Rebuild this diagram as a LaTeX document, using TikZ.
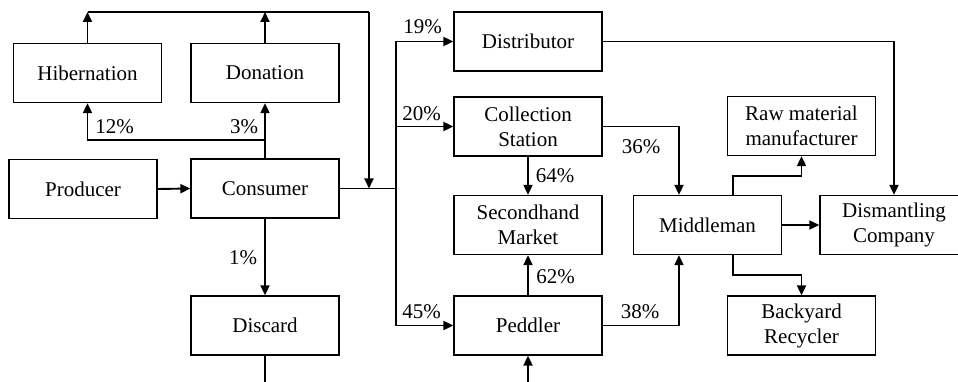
\documentclass[tikz,border=0pt]{standalone}
\usepackage{fontspec}
\setmainfont{Liberation Serif}
\usetikzlibrary{arrows.meta}
\begin{document}
\begin{tikzpicture}[x=1pt,y=-1pt,
  box/.style={draw, line width=1.3pt, minimum width=148pt, minimum height=59pt, inner sep=0pt, align=center, font=\fontsize{21}{25}\selectfont},
  conn/.style={line width=1.9pt},
  arr/.style={conn, -{Triangle[length=10pt,width=9pt]}},
  lbl/.style={font=\fontsize{21}{25}\selectfont, inner sep=0pt}]
\useasboundingbox (0,0) rectangle (958,382);
\node[box] (hib) at (87.5,73) {Hibernation};
\node[box] (don) at (265,73) {Donation};
\node[box] (prod) at (83,189) {Producer};
\node[box] (cons) at (265,188.5) {Consumer};
\node[box] (disc) at (265,325.5) {Discard};
\node[box] (dist) at (528,41.5) {Distributor};
\node[box] (coll) at (528,126.5) {Collection\\Station};
\node[box] (sec) at (528,225) {Secondhand\\Market};
\node[box] (ped) at (528,325.5) {Peddler};
\node[box] (mid) at (707.5,225) {Middleman};
\node[box] (raw) at (801.5,126) {Raw material\\manufacturer};
\node[box] (dism) at (894,225) {Dismantling\\Company};
\node[box] (back) at (801.5,325.5) {Backyard\\Recycler};
% top loop
\coordinate (tl) at (87.5,12);
\coordinate (tr) at (369,12);
\coordinate (jn) at (369,188.5);
\draw[arr] (hib.north) -- (tl);
\draw[arr] (don.north) -- (don.north |- tl);
\draw[conn] (tl) -- (tr);
\draw[arr] (tr) -- (jn);
% consumer split
\coordinate (sp) at (396,188.5);
\coordinate (spt) at (396,41.5);
\coordinate (spb) at (396,325.5);
\draw[conn] (cons.east) -- (sp);
\draw[conn] (spt) -- (spb);
\draw[arr] (spt) -- (dist.west);
\draw[arr] (spt |- coll.west) -- (coll.west);
\draw[arr] (spb) -- (ped.west);
% consumer up
\coordinate (cu) at (265,140);
\draw[arr] (cons.north) -- (don.south);
\draw[arr] (cu) -| (hib.south);
\draw[arr] (prod.east) -- (cons.west);
\draw[arr] (cons.south) -- (disc.north);
\coordinate (db) at (265,386);
\draw[conn] (disc.south) -- (db);
\coordinate (pb) at (528,386);
\draw[arr] (pb) -- (ped.south);
\draw[arr] (coll.south) -- (sec.north);
\draw[arr] (ped.north) -- (sec.south);
\draw[arr] (coll.east) -| ([xshift=-28.5pt]mid.north);
\draw[arr] (ped.east) -| ([xshift=-28.5pt]mid.south);
\coordinate (mr) at (767,176);
\coordinate (mb) at (767,275);
\draw[arr] ([xshift=25.5pt]mid.north) |- (mr) -| (raw.south);
\draw[arr] ([xshift=25.5pt]mid.south) |- (mb) -| (back.north);
\draw[arr] (mid.east) -- (dism.west);
\draw[arr] (dist.east) -| (dism.north);
% labels
\node[lbl] (l12) at (114.5,127) {12\%};
\node[lbl] (l3) at (244,127) {3\%};
\node[lbl] (l1) at (243,258) {1\%};
\node[lbl] (l19) at (422.5,27) {19\%};
\node[lbl] (l20) at (421.5,113.5) {20\%};
\node[lbl] (l45) at (421.5,312) {45\%};
\node[lbl] (l64) at (555,175.5) {64\%};
\node[lbl] (l62) at (555.5,277) {62\%};
\node[lbl] (l36) at (641,146.5) {36\%};
\node[lbl] (l38) at (640,312) {38\%};
\end{tikzpicture}
\end{document}
